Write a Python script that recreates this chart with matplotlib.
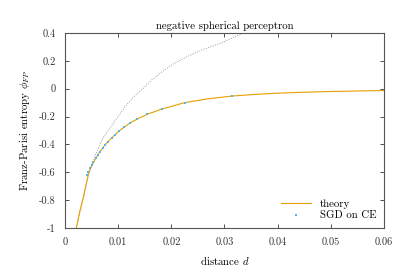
import matplotlib
matplotlib.use("Agg")
import matplotlib.pyplot as plt

plt.rcParams['font.family'] = 'serif'
plt.rcParams['font.serif'] = ['cmr10', 'DejaVu Serif']
plt.rcParams['mathtext.fontset'] = 'cm'
plt.rcParams['axes.unicode_minus'] = False

# theory curve
theory_d = [0.00212, 0.0027, 0.0034, 0.0040, 0.00446, 0.0050, 0.0058, 0.0066, 0.0075,
            0.0088, 0.0102, 0.0122, 0.0136, 0.0155, 0.0182, 0.0225, 0.0270, 0.0313,
            0.036, 0.040, 0.045, 0.050, 0.055, 0.060]
theory_phi = [-1.0, -0.89, -0.785, -0.68, -0.605, -0.555, -0.498, -0.450, -0.404,
              -0.352, -0.302, -0.246, -0.217, -0.183, -0.146, -0.100, -0.072, -0.053,
              -0.040, -0.032, -0.025, -0.020, -0.016, -0.013]

# dotted gray curve
dotted_d = [0.00212, 0.0034, 0.0045, 0.0057, 0.0071, 0.0085, 0.0103, 0.0116, 0.0130,
            0.0147, 0.0162, 0.0179, 0.0200, 0.0229, 0.0260, 0.0292, 0.0335, 0.036]
dotted_phi = [-1.0, -0.79, -0.596, -0.476, -0.356, -0.280, -0.180, -0.115, -0.055,
              0.003, 0.060, 0.111, 0.170, 0.230, 0.282, 0.326, 0.40, 0.44]

# SGD on CE points
sgd_d = [0.03135, 0.02251, 0.01819, 0.01548, 0.01360, 0.01223, 0.01110, 0.01016,
         0.00940, 0.00878, 0.00814, 0.00752, 0.00709, 0.00658, 0.00615, 0.00577,
         0.00532, 0.00502, 0.00470, 0.00438, 0.00419]
sgd_phi = [-0.052, -0.100, -0.146, -0.183, -0.217, -0.246, -0.277, -0.304,
           -0.330, -0.354, -0.380, -0.404, -0.428, -0.452, -0.476, -0.500,
           -0.524, -0.548, -0.571, -0.596, -0.620]

xticks = [0, 0.01, 0.02, 0.03, 0.04, 0.05, 0.06]
xticklabels = ['0', '0.01', '0.02', '0.03', '0.04', '0.05', '0.06']
yticks = [-1, -0.8, -0.6, -0.4, -0.2, 0, 0.2, 0.4]
yticklabels = ['-1', '-0.8', '-0.6', '-0.4', '-0.2', '0', '0.2', '0.4']

fig = plt.figure(figsize=(4.07, 2.71), dpi=100)
ax = fig.add_axes([0.160, 0.159, 0.783, 0.719])

ax.plot(dotted_d, dotted_phi, color='#999999', lw=0.7, ls=(0, (1, 1.5)))
ax.plot(theory_d, theory_phi, color='#E69F00', lw=0.8, label='theory')
ax.plot(sgd_d, sgd_phi, ls='none', marker='s', ms=1.8, mew=0,
        color='#56B4E9', label='SGD on CE')

ax.set_xlim(0, 0.06)
ax.set_ylim(-1, 0.4)
ax.set_xticks(xticks)
ax.set_xticklabels(xticklabels)
ax.set_yticks(yticks)
ax.set_yticklabels(yticklabels)
ax.tick_params(direction='in', top=True, right=True, length=3, width=0.6,
               labelsize=7.5, colors='#333333', pad=7)
for s in ax.spines.values():
    s.set_color('#555555')
    s.set_linewidth(0.8)

ax.set_title('negative spherical perceptron', fontsize=7.8, pad=3)
ax.set_xlabel('distance $d$', fontsize=7.8, labelpad=5)
ax.set_ylabel('Franz-Parisi entropy $\\phi_{FP}$', fontsize=7.8, labelpad=5)

leg = ax.legend(loc='lower right', frameon=False, fontsize=7.8, handlelength=2.8,
                borderaxespad=0.3, labelspacing=0.15)

fig.savefig('out.png', dpi=100)
